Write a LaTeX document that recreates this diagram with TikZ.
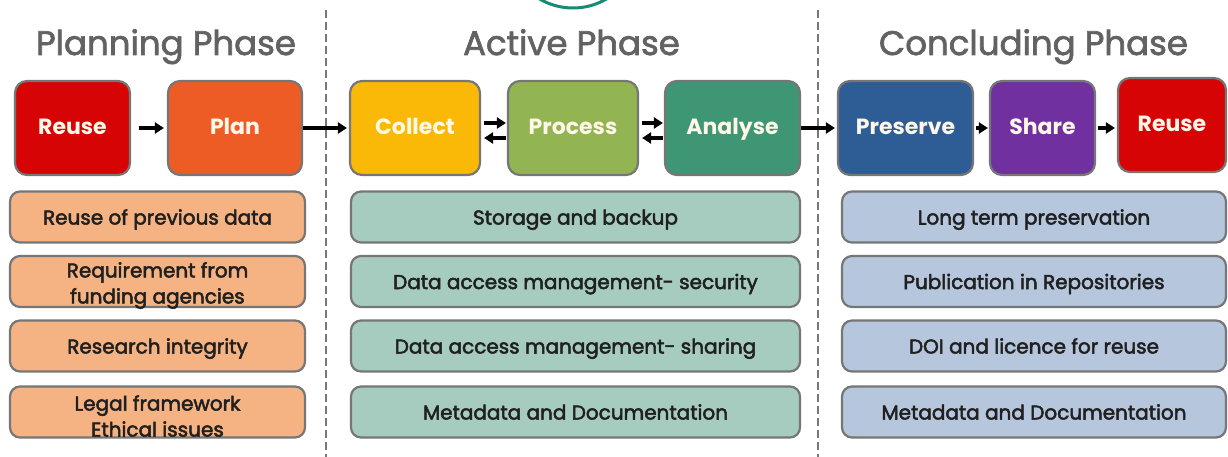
\documentclass[tikz,border=0pt]{standalone}
\usepackage{fontspec}
\setmainfont{Poppins}
\newfontfamily\titlefont[FakeBold=2]{Poppins}
\newfontfamily\itemfont[FakeBold=2.5]{Poppins}
\usetikzlibrary{arrows.meta,calc}

\definecolor{edge}{RGB}{118,118,118}
\definecolor{titlegrey}{RGB}{98,98,98}
\definecolor{dashgrey}{RGB}{120,120,120}
\definecolor{labelwhite}{RGB}{255,248,232}
\definecolor{itemtext}{RGB}{32,32,32}
\definecolor{logo}{RGB}{22,138,118}
\definecolor{reusered}{RGB}{214,4,4}
\definecolor{planorange}{RGB}{238,92,38}
\definecolor{collectyellow}{RGB}{250,185,6}
\definecolor{processgreen}{RGB}{147,180,82}
\definecolor{analyseteal}{RGB}{62,150,116}
\definecolor{preserveblue}{RGB}{46,92,148}
\definecolor{sharepurple}{RGB}{112,48,160}
\definecolor{peach}{RGB}{245,178,130}
\definecolor{mint}{RGB}{166,204,192}
\definecolor{steel}{RGB}{181,198,221}

\begin{document}
\begin{tikzpicture}[x=1pt,y=-1pt,
  stage/.style={draw=edge, line width=2.2pt, rounded corners=12pt,
    minimum height=94pt, inner sep=0pt, text=labelwhite,
    font=\bfseries\fontsize{22}{24}\selectfont, text height=16pt, text depth=2pt},
  task/.style={draw=edge, line width=2.2pt, rounded corners=10pt,
    minimum height=51pt, inner sep=0pt, text=itemtext,
    font=\itemfont\fontsize{20}{26}\selectfont, text height=15pt, text depth=0pt},
  tasktext/.style={inner sep=0pt, align=center, text=itemtext,
    font=\itemfont\fontsize{20}{26}\selectfont},
  flow/.style={line width=3.5pt, -{Triangle[length=9pt,width=11pt]}},
  phase/.style={font=\titlefont\fontsize{34}{36}\selectfont, text=titlegrey,
    anchor=base, inner sep=0pt},
  divider/.style={draw=dashgrey, line width=2pt, dash pattern=on 8pt off 4pt}]

\useasboundingbox (0,0) rectangle (1228,457);

% logo ring peeking in at the top edge
\begin{scope}
  \clip (0,0) rectangle (1228,457);
  \draw[logo, line width=3pt] (573,-62) ellipse [x radius=68, y radius=70];
\end{scope}

% phase dividers
\coordinate (d1t) at (326,10);  \coordinate (d1b) at (326,457);
\coordinate (d2t) at (818,10);  \coordinate (d2b) at (818,457);
\draw[divider] (d1t) -- (d1b);
\draw[divider] (d2t) -- (d2b);

% phase titles
\node[phase] (tplan) at (166,55) {Planning Phase};
\node[phase] (tact)  at (571.5,55) {Active Phase};
\node[phase] (tcon)  at (1033.5,55) {Concluding Phase};

% lifecycle stages
\node[stage, fill=reusered,      minimum width=115pt] (reuseA)   at (72.5,128)  {Reuse};
\node[stage, fill=planorange,    minimum width=134pt] (plan)     at (235,128)   {Plan};
\node[stage, fill=collectyellow, minimum width=130pt] (collect)  at (415,128)   {Collect};
\node[stage, fill=processgreen,  minimum width=130pt] (process)  at (573,128)   {Process};
\node[stage, fill=analyseteal,   minimum width=135pt] (analyse)  at (732.5,128) {Analyse};
\node[stage, fill=preserveblue,  minimum width=135pt] (preserve) at (905.5,128) {Preserve};
\node[stage, fill=sharepurple,   minimum width=105pt] (share)    at (1042.5,128){Share};
\node[stage, fill=reusered,      minimum width=108pt] (reuseB)   at (1172,125)  {Reuse};

% stage flow
\draw[flow, shorten <=8pt, shorten >=3pt] (reuseA) -- (plan);
\draw[flow, shorten >=2pt] (plan) -- (collect);
\draw[flow, shorten <=3pt, shorten >=1pt] ($(collect.east)+(0,-5)$) -- ($(process.west)+(0,-5)$);
\draw[flow, shorten <=1pt, shorten >=3pt] ($(process.west)+(0,10)$) -- ($(collect.east)+(0,10)$);
\draw[flow, shorten <=3pt, shorten >=1pt] ($(process.east)+(0,-5)$) -- ($(analyse.west)+(0,-5)$);
\draw[flow, shorten <=1pt, shorten >=3pt] ($(analyse.west)+(0,10)$) -- ($(process.east)+(0,10)$);
\draw[flow, shorten >=2pt] (analyse) -- (preserve);
\draw[flow, shorten <=2pt, shorten >=1pt] (preserve) -- (share);
\draw[flow, shorten <=2pt, shorten >=2pt] (share.east) -- (share.east -| reuseB.west);

% planning phase tasks
\node[task, fill=peach, minimum width=295pt] (p1) at (157.5,217)   {Reuse of previous data};
\node[task, fill=peach, minimum width=295pt] (p2) at (157.5,281.5) {};
\node[tasktext] (p2t) at ($(p2)+(0,4)$) {Requirement from\\funding agencies};
\node[task, fill=peach, minimum width=295pt] (p3) at (157.5,346)   {Research integrity};
\node[task, fill=peach, minimum width=295pt] (p4) at (157.5,412)   {};
\node[tasktext] (p4t) at ($(p4)+(0,4)$) {Legal framework\\Ethical issues};

% active phase tasks
\node[task, fill=mint, minimum width=449pt] (a1) at (575.5,217)   {Storage and backup};
\node[task, fill=mint, minimum width=449pt] (a2) at (575.5,281.5) {Data access management- security};
\node[task, fill=mint, minimum width=449pt] (a3) at (575.5,346)   {Data access management- sharing};
\node[task, fill=mint, minimum width=449pt] (a4) at (575.5,412)   {Metadata and Documentation};

% concluding phase tasks
\node[task, fill=steel, minimum width=384pt] (c1) at (1034,217)   {Long term preservation};
\node[task, fill=steel, minimum width=384pt] (c2) at (1034,281.5) {Publication in Repositories};
\node[task, fill=steel, minimum width=384pt] (c3) at (1034,346)   {DOI and licence for reuse};
\node[task, fill=steel, minimum width=384pt] (c4) at (1034,412)   {Metadata and Documentation};

\end{tikzpicture}
\end{document}
